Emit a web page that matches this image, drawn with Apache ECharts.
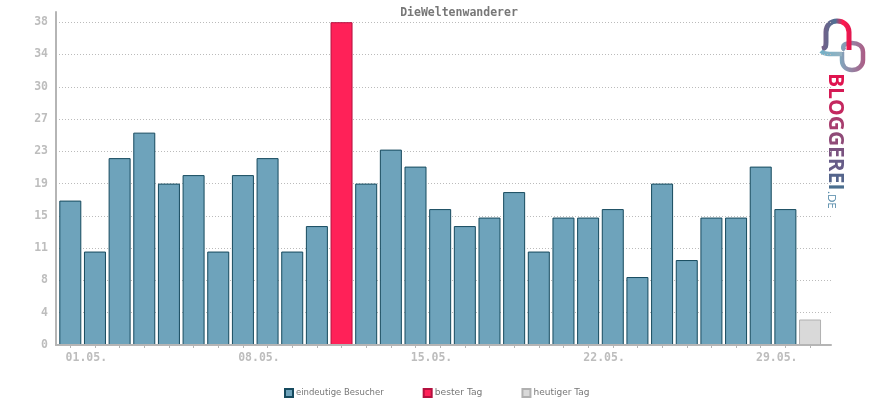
<!DOCTYPE html>
<html lang="de">
<head>
    <meta charset="UTF-8">
    <title>DieWeltenwanderer</title>
    <script src="https://cdn.jsdelivr.net/npm/echarts@6/dist/echarts.min.js"></script>
    <style>
        html, body { margin: 0; padding: 0; background: #fff; }
        #main { width: 870px; height: 400px; }
    </style>
</head>
<body>
<div id="main"></div>
<script>
    var days = ['01.05.','02.05.','03.05.','04.05.','05.05.','06.05.','07.05.','08.05.','09.05.','10.05.',
        '11.05.','12.05.','13.05.','14.05.','15.05.','16.05.','17.05.','18.05.','19.05.','20.05.',
        '21.05.','22.05.','23.05.','24.05.','25.05.','26.05.','27.05.','28.05.','29.05.','30.05.','31.05.'];
    var visitors = [17,11,22,25,19,20,11,20,22,11,14,null,19,23,21,16,14,15,18,11,15,15,16,8,19,10,15,15,21,16,null];
    var bestDay = [null,null,null,null,null,null,null,null,null,null,null,38,null,null,null,null,null,null,null,null,null,null,null,null,null,null,null,null,null,null,null];
    var today = [null,null,null,null,null,null,null,null,null,null,null,null,null,null,null,null,null,null,null,null,null,null,null,null,null,null,null,null,null,null,3];
    var yTicks = [0,3.8,7.6,11.4,15.2,19,22.8,26.6,30.4,34.2,38];
    var xTicks = days.map(function (d, i) { return i; });
    var xLabelTicks = [0,7,14,21,28];

    function pairs(arr) {
        var out = [];
        arr.forEach(function (v, i) { if (v !== null) out.push([i, v]); });
        return out;
    }

    // logo outlines
    echarts.graphic.registerShape('logoBell', echarts.graphic.extendPath('M822 49 C826 48 826 46 826 42 L826 32 C826 25 831 21 837 21 C843 21 849 25 849 32 L849 50'));
    echarts.graphic.registerShape('logoTail', echarts.graphic.extendPath('M821 51 C825 55 830 54 842 54'));
    echarts.graphic.registerShape('logoRing', echarts.graphic.extendPath('M845 50 C842 48 843 45 846 44 C848 43 850 43 852 43 C858 43 863 46 863 52 L863 60 C863 66 858 70 852 70 C846 70 842 66 842 60 L842 52'));

    // logo lettering, one colour per letter for the red to blue fade
    var logoLetters = ['B','L','O','G','G','E','R','E','I'];
    var logoColors = ['#e0144f','#d51a55','#c4285f','#a83d6e','#8f4a78','#7a5380','#665c88','#55658c','#4a6e8e'];
    var logoRich = {};
    logoColors.forEach(function (c, i) {
        logoRich['l' + i] = { fill: c, fontFamily: '"Open Sans"', fontWeight: 700, fontSize: 21 };
    });
    var logoText = logoLetters.map(function (l, i) { return '{l' + i + '|' + l + '}'; }).join('');

    var mono = '"DejaVu Sans Mono", monospace';
    var myChart = echarts.init(document.getElementById('main'));
    myChart.setOption({
        animation: false,
        title: {
            text: 'DieWeltenwanderer',
            left: 454, top: 2, textAlign: 'center',
            textStyle: { fontFamily: mono, fontSize: 11.5, fontWeight: 'bold', color: '#777' }
        },
        legend: {
            left: 284, top: 388, padding: 0, itemWidth: 8, itemHeight: 8, itemGap: 39, icon: 'rect',
            textStyle: { fontFamily: '"DejaVu Sans"', fontSize: 8.5, color: '#777', padding: [0, 0, 0, -2] },
            data: [
                { name: 'eindeutige Besucher' },
                { name: 'bester Tag', textStyle: { fontSize: 9.2 } },
                { name: 'heutiger Tag', textStyle: { fontSize: 9 } }
            ]
        },
        grid: { left: 56, top: 12, width: 775, height: 333 },
        xAxis: {
            type: 'value', min: -0.58, max: 30.85, z: 3,
            axisLine: { show: true, lineStyle: { color: '#b5b5b5', width: 2 } },
            axisTick: { show: true, length: 3, customValues: xTicks, lineStyle: { color: '#b5b5b5' } },
            axisLabel: {
                customValues: xLabelTicks, margin: 7, padding: [0, 0, 0, 32],
                fontFamily: mono, fontSize: 11.5, fontWeight: 'bold', color: '#bdbdbd',
                formatter: function (v) { return days[Math.round(v)]; }
            },
            splitLine: { show: false }
        },
        yAxis: {
            type: 'value', min: 0, max: 39.2,
            axisLine: { show: true, onZero: false, lineStyle: { color: '#b5b5b5', width: 2 } },
            axisTick: { show: false, customValues: yTicks },
            axisLabel: {
                customValues: yTicks, margin: 8, padding: [4, 0, 0, 0],
                fontFamily: mono, fontSize: 11.5, fontWeight: 'bold', color: '#bdbdbd',
                formatter: function (v) { return String(Math.round(v)); }
            },
            splitLine: { show: true, lineStyle: { color: '#bbbbbb', type: [1, 2], width: 1 } }
        },
        series: [
            { name: 'eindeutige Besucher', type: 'bar', barWidth: 22, barGap: '-100%', data: pairs(visitors),
              itemStyle: { color: '#6ea3bb', borderColor: '#164a5e', borderWidth: 1 } },
            { name: 'bester Tag', type: 'bar', barWidth: 22, barGap: '-100%', data: pairs(bestDay),
              itemStyle: { color: '#ff2158', borderColor: '#b5103f', borderWidth: 1 } },
            { name: 'heutiger Tag', type: 'bar', barWidth: 22, barGap: '-100%', data: pairs(today),
              itemStyle: { color: '#d9d9d9', borderColor: '#b0b0b0', borderWidth: 1 } }
        ],
        graphic: [
            { type: 'logoRing', style: { fill: 'none', lineWidth: 4.5,
                stroke: new echarts.graphic.LinearGradient(0, 0, 1, 0, [{ offset: 0, color: '#7fa9bf' }, { offset: 1, color: '#ad5a84' }]) } },
            { type: 'logoBell', style: { fill: 'none', lineWidth: 5,
                stroke: new echarts.graphic.LinearGradient(0, 0, 1, 0, [{ offset: 0, color: '#7d5d86' }, { offset: 0.5, color: '#4f6f93' }, { offset: 0.72, color: '#ff1a4f' }, { offset: 1, color: '#e0174f' }]) } },
            { type: 'logoTail', style: { fill: 'none', lineWidth: 4.5,
                stroke: new echarts.graphic.LinearGradient(0, 0, 1, 0, [{ offset: 0, color: '#6fb0c8' }, { offset: 1, color: '#9ab2c0' }]) } },
            { type: 'text', x: 824, y: 73, rotation: -Math.PI / 2,
              style: { text: logoText, rich: logoRich, x: 0, y: 0, textAlign: 'left', textVerticalAlign: 'bottom' } },
            { type: 'text', x: 825, y: 191, rotation: -Math.PI / 2,
              style: { text: '.DE', x: 0, y: 0, textAlign: 'left', textVerticalAlign: 'bottom', fontFamily: '"Open Sans"', fontSize: 11.5, fill: '#4f86a6' } }
        ]
    });
</script>
</body>
</html>
